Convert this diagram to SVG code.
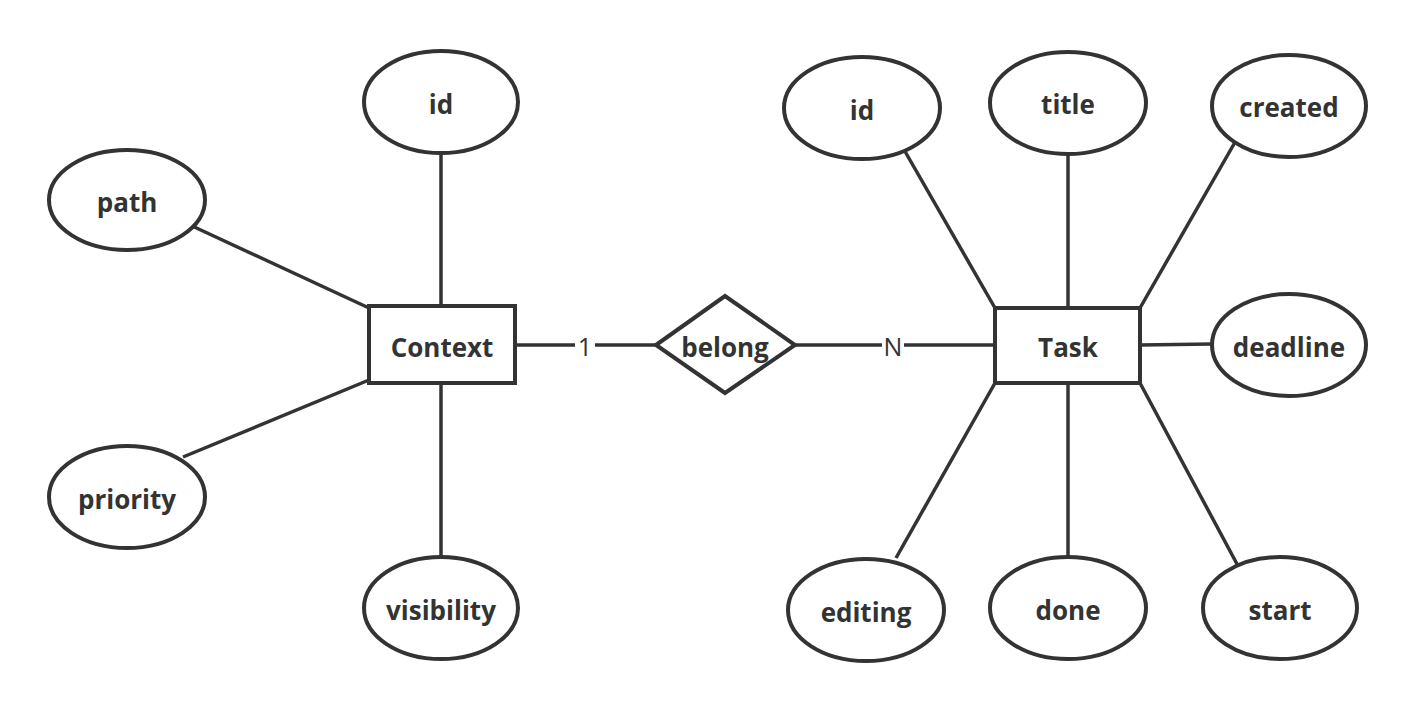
<svg xmlns="http://www.w3.org/2000/svg" width="1418" height="701" viewBox="0 0 1418 701">
<style>
.shape{fill:#fff;stroke:#333;stroke-width:4}
.ln{stroke:#333;stroke-width:3.5;fill:none}
.t{font-family:"Open Sans","Noto Sans",sans-serif;font-weight:bold;font-size:26px;fill:#333;text-anchor:middle;dominant-baseline:central}
.lbl{font-family:"Open Sans","Noto Sans",sans-serif;font-size:25px;fill:#333;text-anchor:middle;dominant-baseline:central}
.bg{fill:#fff}
</style>
<rect width="1418" height="701" fill="#fff"/>
<g id="connectors">
<line class="ln" x1="441" y1="153" x2="441" y2="306"/>
<line class="ln" x1="190" y1="225" x2="369" y2="308"/>
<line class="ln" x1="183" y1="457" x2="369" y2="380"/>
<line class="ln" x1="441" y1="383" x2="441" y2="557"/>
<line class="ln" x1="515" y1="345" x2="656" y2="345"/>
<rect class="bg" x="575" y="330" width="20" height="30"/>
<text class="lbl" x="585" y="346">1</text>
<line class="ln" x1="795" y1="345" x2="995" y2="345"/>
<rect class="bg" x="882" y="330" width="22" height="30"/>
<text class="lbl" x="893" y="346">N</text>
<line class="ln" x1="895" y1="134" x2="995" y2="308"/>
<line class="ln" x1="1068" y1="155" x2="1068" y2="308"/>
<line class="ln" x1="1238" y1="137" x2="1140" y2="308"/>
<line class="ln" x1="1140" y1="345" x2="1212" y2="344"/>
<line class="ln" x1="995" y1="383" x2="896" y2="558"/>
<line class="ln" x1="1068" y1="383" x2="1068" y2="557"/>
<line class="ln" x1="1140" y1="383" x2="1237" y2="564"/>
</g>
<g id="context"><rect class="shape" x="369" y="306" width="146" height="77"/><text class="t" x="442" y="347">Context</text></g>
<g id="belong"><polygon class="shape" points="656,345 725,296 795,345 725,393"/><text class="t" x="725" y="347">belong</text></g>
<g id="task"><rect class="shape" x="995" y="308" width="145" height="75"/><text class="t" x="1068" y="347">Task</text></g>
<g id="ctx-id"><ellipse class="shape" cx="441" cy="102" rx="77" ry="51"/><text class="t" x="441" y="104">id</text></g>
<g id="ctx-path"><ellipse class="shape" cx="127" cy="200" rx="78" ry="50"/><text class="t" x="127" y="202">path</text></g>
<g id="ctx-priority"><ellipse class="shape" cx="127" cy="497" rx="78" ry="51"/><text class="t" x="127" y="499">priority</text></g>
<g id="ctx-visibility"><ellipse class="shape" cx="441" cy="608" rx="77" ry="51"/><text class="t" x="441" y="610">visibility</text></g>
<g id="task-id"><ellipse class="shape" cx="862" cy="108" rx="78" ry="51"/><text class="t" x="862" y="110">id</text></g>
<g id="task-title"><ellipse class="shape" cx="1068" cy="103" rx="78" ry="51"/><text class="t" x="1068" y="104">title</text></g>
<g id="task-created"><ellipse class="shape" cx="1289" cy="106" rx="77" ry="51"/><text class="t" x="1289" y="107">created</text></g>
<g id="task-deadline"><ellipse class="shape" cx="1289" cy="345" rx="77" ry="51"/><text class="t" x="1289" y="347">deadline</text></g>
<g id="task-editing"><ellipse class="shape" cx="866" cy="610" rx="78" ry="51"/><text class="t" x="866" y="612">editing</text></g>
<g id="task-done"><ellipse class="shape" cx="1068" cy="608" rx="78" ry="51"/><text class="t" x="1068" y="610">done</text></g>
<g id="task-start"><ellipse class="shape" cx="1280" cy="608" rx="77" ry="51"/><text class="t" x="1280" y="610">start</text></g>
</svg>
